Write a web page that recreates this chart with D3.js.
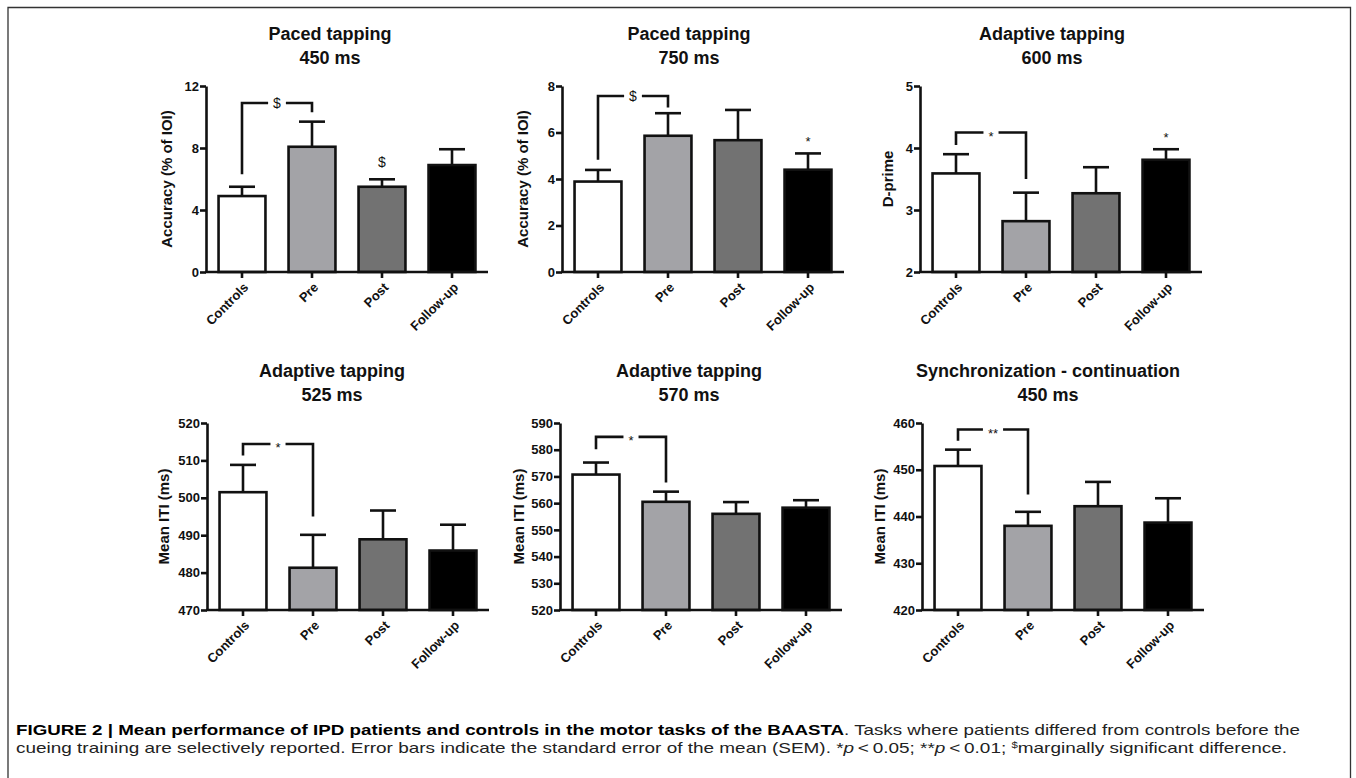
<!DOCTYPE html>
<html>
<head>
<meta charset="utf-8">
<script src="https://cdn.jsdelivr.net/npm/d3@7"></script>
<style>
  html, body { margin: 0; padding: 0; background: #fff; }
  svg { display: block; }
  text { font-family: "Liberation Sans", Arial, Helvetica, sans-serif; }
</style>
</head>
<body>
<svg id="chart" width="1356" height="778"></svg>
<script>
// ---------------- DATA ----------------
const categories = ["Controls", "Pre", "Post", "Follow-up"];

const panelTitles = [
  ["Paced tapping", "450 ms"],
  ["Paced tapping", "750 ms"],
  ["Adaptive tapping", "600 ms"],
  ["Adaptive tapping", "525 ms"],
  ["Adaptive tapping", "570 ms"],
  ["Synchronization - continuation", "450 ms"]
];
const yAxisLabels = ["Accuracy (% of IOI)", "Accuracy (% of IOI)", "D-prime",
                     "Mean ITI (ms)", "Mean ITI (ms)", "Mean ITI (ms)"];

const paced450Mean = [4.9, 8.08, 5.5, 6.9];
const paced450Sem  = [0.6, 1.62, 0.48, 1.02];
const paced450Ticks = [0, 4, 8, 12];

const paced750Mean = [3.89, 5.86, 5.67, 4.4];
const paced750Sem  = [0.5, 0.97, 1.3, 0.7];
const paced750Ticks = [0, 2, 4, 6, 8];

const adapt600Mean = [3.59, 2.82, 3.27, 3.81];
const adapt600Sem  = [0.31, 0.46, 0.42, 0.17];
const adapt600Ticks = [2, 3, 4, 5];

const adapt525Mean = [501.5, 481.3, 488.9, 485.9];
const adapt525Sem  = [7.3, 8.8, 7.7, 6.9];
const adapt525Ticks = [470, 480, 490, 500, 510, 520];

const adapt570Mean = [570.7, 560.5, 556.0, 558.3];
const adapt570Sem  = [4.5, 3.8, 4.4, 2.8];
const adapt570Ticks = [520, 530, 540, 550, 560, 570, 580, 590];

const sync450Mean = [450.8, 438.0, 442.2, 438.7];
const sync450Sem  = [3.5, 3.0, 5.2, 5.2];
const sync450Ticks = [420, 430, 440, 450, 460];

// Controls-vs-Pre comparison brackets (data units)
const bracketY        = [10.9, 7.57, 4.25, 514.4, 584.8, 458.6];
const bracketLeftEnd  = [6.3, 4.83, 4.05, 511.3, 580.2, 456.2];
const bracketRightEnd = [10.3, 7.07, 3.5, 495.0, 567.7, 444.7];
const bracketLabels   = ["$", "$", "*", "*", "*", "**"];

// single-bar significance marks
const markPanel    = [0, 1, 2];
const markCategory = ["Post", "Follow-up", "Follow-up"];
const markValue    = [7.1, 5.75, 4.23];
const markLabel    = ["$", "*", "*"];

const barFills = ["#ffffff", "#a3a3a7", "#727272", "#000000"];

// ---------------- LAYOUT ----------------
const layouts = [
  {ax: 206, top: 86,  bottom: 272, titleX: 330,  ylabX: 167},
  {ax: 562, top: 86,  bottom: 272, titleX: 689,  ylabX: 522.5},
  {ax: 920, top: 86,  bottom: 272, titleX: 1052, ylabX: 887.5},
  {ax: 207, top: 423, bottom: 610, titleX: 332,  ylabX: 163.5},
  {ax: 560, top: 423, bottom: 610, titleX: 689,  ylabX: 518.5},
  {ax: 922, top: 423, bottom: 610, titleX: 1048, ylabX: 880}
];

const means = [paced450Mean, paced750Mean, adapt600Mean, adapt525Mean, adapt570Mean, sync450Mean];
const sems  = [paced450Sem, paced750Sem, adapt600Sem, adapt525Sem, adapt570Sem, sync450Sem];
const ticks = [paced450Ticks, paced750Ticks, adapt600Ticks, adapt525Ticks, adapt570Ticks, sync450Ticks];

const svg = d3.select("#chart");
svg.append("rect").attr("width", 1356).attr("height", 778).attr("fill", "#fff");

// frame
svg.append("path")
  .attr("d", "M8,779 V7.5 H1350.5 V779")
  .attr("fill", "none").attr("stroke", "#333").attr("stroke-width", 1.3);

const SW = 2.6;
const ink = "#111";

layouts.forEach((L, p) => {
  const g = svg.append("g");
  const tk = ticks[p];
  const y = d3.scaleLinear().domain([tk[0], tk[tk.length - 1]]).range([L.bottom, L.top]);
  const x = d3.scaleBand().domain(categories)
    .range([L.ax + 1, L.ax + 281]).paddingInner(0.33).paddingOuter(0.165);

  // title
  const t = g.append("text").attr("text-anchor", "middle")
    .attr("font-weight", "bold").attr("font-size", 18).attr("fill", ink);
  t.append("tspan").attr("x", L.titleX).attr("y", L.top - 46).text(panelTitles[p][0]);
  t.append("tspan").attr("x", L.titleX).attr("y", L.top - 22).text(panelTitles[p][1]);

  // y axis label
  g.append("text")
    .attr("transform", `translate(${L.ylabX},${(L.top + L.bottom) / 2}) rotate(-90)`)
    .attr("text-anchor", "middle").attr("dy", "0.36em")
    .attr("font-weight", "bold").attr("font-size", 15).attr("fill", ink)
    .text(yAxisLabels[p]);

  const rows = categories.map((c, i) => ({c, i, m: means[p][i], s: sems[p][i]}));

  // error bars (upper only)
  const eb = g.append("g").attr("stroke", ink).attr("stroke-width", SW).attr("fill", "none");
  eb.selectAll(".v").data(rows).join("line")
    .attr("x1", d => x(d.c) + x.bandwidth() / 2).attr("x2", d => x(d.c) + x.bandwidth() / 2)
    .attr("y1", d => y(d.m)).attr("y2", d => y(d.m + d.s));
  eb.selectAll(".h").data(rows).join("line")
    .attr("x1", d => x(d.c) + x.bandwidth() / 2 - 13).attr("x2", d => x(d.c) + x.bandwidth() / 2 + 13)
    .attr("y1", d => y(d.m + d.s)).attr("y2", d => y(d.m + d.s));

  // bars
  g.selectAll(".bar").data(rows).join("rect")
    .attr("x", d => x(d.c)).attr("width", x.bandwidth())
    .attr("y", d => y(d.m)).attr("height", d => y(tk[0]) - y(d.m))
    .attr("fill", d => barFills[d.i]).attr("stroke", ink).attr("stroke-width", SW);

  // y axis
  const ya = g.append("g").attr("transform", `translate(${L.ax},0)`)
    .call(d3.axisLeft(y).tickValues(tk).tickSize(6).tickSizeOuter(0).tickPadding(1).tickFormat(d3.format("d")));
  ya.select(".domain").attr("stroke", ink).attr("stroke-width", SW);
  ya.selectAll(".tick line").attr("stroke", ink).attr("stroke-width", SW);
  ya.selectAll(".tick text").attr("font-size", 13).attr("font-weight", "bold").attr("fill", ink)
    .attr("font-family", "Liberation Sans, Arial, sans-serif");

  // x axis
  const xa = g.append("g").attr("transform", `translate(0,${L.bottom})`)
    .call(d3.axisBottom(x).tickSize(6).tickSizeOuter(0));
  xa.select(".domain").remove();
  xa.selectAll(".tick line").attr("stroke", ink).attr("stroke-width", SW);
  xa.selectAll(".tick text")
    .attr("font-size", 13).attr("font-weight", "bold").attr("fill", ink)
    .attr("font-family", "Liberation Sans, Arial, sans-serif")
    .attr("x", 0).attr("y", 0).attr("dy", "0.35em")
    .attr("text-anchor", "end")
    .attr("transform", "translate(4,13) rotate(-45)");
  g.append("line").attr("x1", L.ax - 1).attr("x2", L.ax + 282)
    .attr("y1", L.bottom).attr("y2", L.bottom)
    .attr("stroke", ink).attr("stroke-width", SW);

  // bracket
  const cx0 = x(categories[0]) + x.bandwidth() / 2;
  const cx1 = x(categories[1]) + x.bandwidth() / 2;
  const by = y(bracketY[p]);
  const mid = (cx0 + cx1) / 2;
  const lab = g.append("text").attr("x", mid).attr("text-anchor", "middle")
    .attr("font-size", bracketLabels[p] === "$" ? 14 : 13).attr("fill", ink)
    .text(bracketLabels[p]);
  lab.attr("y", by + (bracketLabels[p] === "$" ? 5 : 8));
  const halfGap = lab.node().getComputedTextLength() / 2 + 5;
  g.append("path")
    .attr("d", `M${cx0},${y(bracketLeftEnd[p])} V${by} H${mid - halfGap} M${mid + halfGap},${by} H${cx1} V${y(bracketRightEnd[p])}`)
    .attr("fill", "none").attr("stroke", ink).attr("stroke-width", SW);

  // single marks
  markPanel.forEach((mp, k) => {
    if (mp !== p) return;
    const mx = x(markCategory[k]) + x.bandwidth() / 2;
    g.append("text").attr("x", mx).attr("text-anchor", "middle")
      .attr("y", y(markValue[k]) + (markLabel[k] === "$" ? 5 : 8))
      .attr("font-size", markLabel[k] === "$" ? 14 : 13).attr("fill", ink)
      .text(markLabel[k]);
  });
});

// ---------------- CAPTION ----------------
const cap1 = svg.append("text").attr("x", 16).attr("y", 735)
  .attr("font-size", 15).attr("fill", "#222")
  .attr("textLength", 1284).attr("lengthAdjust", "spacingAndGlyphs");
cap1.append("tspan").attr("font-weight", "bold").attr("fill", "#000")
  .text("FIGURE 2 | Mean performance of IPD patients and controls in the motor tasks of the BAASTA");
cap1.append("tspan").text(". Tasks where patients differed from controls before the");

const cap2 = svg.append("text").attr("x", 16).attr("y", 753)
  .attr("font-size", 15).attr("fill", "#222")
  .attr("textLength", 1271).attr("lengthAdjust", "spacingAndGlyphs");
cap2.append("tspan").text("cueing training are selectively reported. Error bars indicate the standard error of the mean (SEM). *");
cap2.append("tspan").attr("font-style", "italic").text("p");
cap2.append("tspan").text("\u2009<\u20090.05; **");
cap2.append("tspan").attr("font-style", "italic").text("p");
cap2.append("tspan").text("\u2009<\u20090.01; ");
cap2.append("tspan").attr("font-size", 9).attr("dy", -5).text("$");
cap2.append("tspan").attr("dy", 5).text("marginally significant difference.");
</script>
</body>
</html>
